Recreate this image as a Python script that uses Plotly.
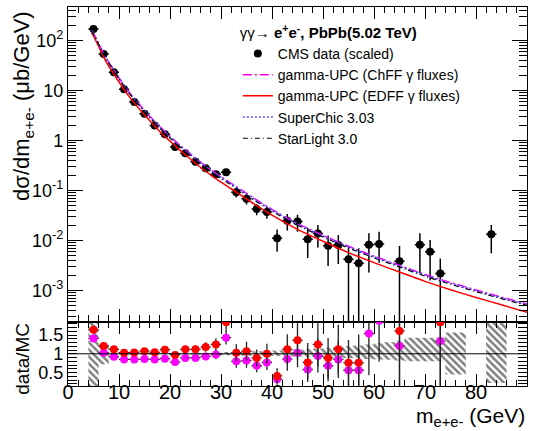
import plotly.graph_objects as go
from plotly.subplots import make_subplots

# ---- measured cross section (points) ----
mass = [5, 7, 9, 11, 13, 15, 17, 19, 21, 23, 25, 27, 29, 31, 33, 35, 37, 39, 41,
        43, 45, 47, 49, 51, 53, 55, 57, 59, 61, 65, 69, 71, 73, 83]
xsec = [171, 54, 23.3, 10.7, 5.9, 3.47, 2.0, 1.34, 0.75, 0.56, 0.38, 0.28, 0.213,
        0.233, 0.093, 0.069, 0.043, 0.0375, 0.0112, 0.025, 0.024, 0.0107, 0.0138,
        0.0079, 0.0082, 0.00425, 0.00353, 0.0083, 0.0086, 0.00387, 0.0083, 0.006,
        0.0022, 0.0134]
err_up = [6, 2.5, 1.1, 0.55, 0.3, 0.2, 0.12, 0.09, 0.055, 0.045, 0.035, 0.03, 0.028,
          0.03, 0.02, 0.016, 0.011, 0.01, 0.0055, 0.009, 0.009, 0.0072, 0.0068,
          0.0047, 0.0048, 0.0034, 0.0035, 0.0058, 0.0065, 0.0039, 0.0058, 0.0043,
          0.0022, 0.0071]
err_dn = [6, 2.5, 1.1, 0.55, 0.3, 0.2, 0.12, 0.09, 0.055, 0.045, 0.035, 0.03, 0.028,
          0.03, 0.02, 0.016, 0.011, 0.01, 0.0052, 0.009, 0.009, 0.0062, 0.0065,
          0.0048, 0.0048, 0.00424, 0.00352, 0.006, 0.005, 0.00386, 0.0061, 0.0044,
          0.00219, 0.0078]
bin_half = [1.0] * len(mass)

# ---- model predictions ----
curve_mass = [4.6, 5, 6, 7, 8, 9, 10, 12, 14, 16, 18, 20, 22, 24, 26, 28, 30, 32, 35,
              40, 45, 50, 55, 60, 65, 70, 75, 80, 85, 90]
chff = [160, 140, 88, 55, 37, 26, 18, 9.3, 5.3, 3.1, 1.9, 1.22, 0.80, 0.54, 0.37,
        0.26, 0.19, 0.14, 0.088, 0.042, 0.022, 0.0128, 0.0077, 0.0049, 0.0032,
        0.0021, 0.00145, 0.00103, 0.00074, 0.00054]
edff = [145, 125, 76.5, 47, 30.8, 21.5, 14.9, 7.6, 4.3, 2.52, 1.53, 0.976, 0.64,
        0.429, 0.294, 0.205, 0.148, 0.109, 0.068, 0.0323, 0.0168, 0.0097, 0.00575,
        0.00363, 0.00235, 0.00153, 0.00104, 0.00073, 0.00052, 0.00037]
superchic = [158, 138, 86, 54, 36.3, 25.5, 17.6, 9.1, 5.2, 3.04, 1.86, 1.19, 0.78,
             0.527, 0.36, 0.253, 0.185, 0.136, 0.0855, 0.0408, 0.0213, 0.0124,
             0.00745, 0.00474, 0.0031, 0.00203, 0.0014, 0.000995, 0.000715, 0.000522]
starlight = [155, 136, 85, 53, 35.5, 24.8, 17.1, 8.8, 5.0, 2.9, 1.77, 1.13, 0.74,
             0.50, 0.342, 0.24, 0.175, 0.129, 0.081, 0.0387, 0.0203, 0.0118, 0.0071,
             0.00452, 0.00296, 0.00194, 0.00134, 0.00095, 0.00069, 0.000505]

# ---- data / MC ratios ----
ratio_mass = [5, 7, 9, 11, 13, 15, 17, 19, 21, 23, 25, 27, 29, 31, 33, 35, 37, 39,
              41, 43, 45, 47, 49, 51, 53, 55, 57, 59, 61, 65, 73]
ratio_edff = [1.64, 1.21, 1.12, 1.03, 1.035, 1.07, 1.04, 1.11, 0.97, 1.12, 1.12, 1.18,
              1.25, 1.84, 1.03, 1.07, 0.89, 1.0, 0.41, 1.12, 1.36, 0.77, 1.25, 0.89,
              1.12, 0.76, 0.76, None, None, 1.61, 1.84]
ratio_chff = [1.41, 1.03, 0.92, 0.85, 0.85, 0.86, 0.85, 0.87, 0.78, 0.89, 0.89, 0.93,
              0.98, 1.43, 0.80, 0.82, 0.68, 0.77, 0.32, 0.86, 1.03, 0.58, 0.94, 0.68,
              0.85, 0.56, 0.56, 1.54, 1.88, 1.21, 1.34]

# ---- model uncertainty band in the ratio panel ----
band_center = [5, 7, 9, 11, 13, 15, 17, 19, 21, 23, 25, 27, 29, 31, 33, 35, 37, 39,
               41, 43, 45, 47, 49, 51, 53, 55, 57, 59, 61, 63, 65, 70, 76, 84]
band_width = [2] * 31 + [8, 4, 4]
band_lo = [0.1, 0.72, 0.96, 0.98, 0.98, 0.98, 0.98, 0.98, 0.98, 0.98, 0.98, 0.98,
           0.98, 0.96, 0.96, 0.95, 0.95, 0.94, 0.94, 0.93, 0.93, 0.92, 0.92, 0.91,
           0.90, 0.89, 0.88, 0.86, 0.85, 0.84, 0.82, 0.80, 0.45, 0.22]
band_hi = [1.9, 1.25, 1.05, 1.02, 1.02, 1.02, 1.02, 1.02, 1.02, 1.02, 1.02, 1.02,
           1.02, 1.05, 1.05, 1.06, 1.07, 1.08, 1.09, 1.10, 1.11, 1.13, 1.14, 1.16,
           1.18, 1.20, 1.22, 1.25, 1.28, 1.31, 1.35, 1.43, 1.57, 1.86]

FONT = "Liberation Sans, Arial, Helvetica, sans-serif"

fig = make_subplots(rows=2, cols=1, shared_xaxes=True, vertical_spacing=0,
                    row_heights=[0.83, 0.17])

# main panel: models
models = [
    ("gamma-UPC (ChFF γ fluxes)", chff, "#ff00ff", "9px,3px,2px,3px", 1.5),
    ("gamma-UPC (EDFF γ fluxes)", edff, "#ff0000", "solid", 1.5),
    ("SuperChic 3.03", superchic, "#5050ff", "2px,2px", 1.6),
    ("StarLight 3.0", starlight, "#000000", "5px,3px,1px,3px", 1.2),
]

fig.add_trace(go.Scatter(
    x=mass, y=xsec, mode="markers", name="CMS data (scaled)",
    marker=dict(color="black", size=8),
    error_y=dict(type="data", symmetric=False, array=err_up, arrayminus=err_dn,
                 color="black", thickness=1.5, width=0),
    error_x=dict(type="data", array=bin_half, color="black", thickness=1.5, width=0),
), row=1, col=1)

for name, vals, color, dash, lw in models:
    fig.add_trace(go.Scatter(
        x=curve_mass, y=vals, mode="lines", name=name,
        line=dict(color=color, dash=dash, width=lw, shape="spline", smoothing=0.6),
    ), row=1, col=1)

# ratio panel: hatched band
fig.add_trace(go.Bar(
    x=band_center, y=[h - l for h, l in zip(band_hi, band_lo)], base=band_lo,
    width=band_width, showlegend=False, hoverinfo="skip",
    marker=dict(color="rgba(0,0,0,0)", line=dict(width=0),
                pattern=dict(shape="\\", fgcolor="#000000", bgcolor="rgba(0,0,0,0)",
                             size=5, solidity=0.5)),
), row=2, col=1)

rel_err = {m: (u / v, d / v) for m, v, u, d in zip(mass, xsec, err_up, err_dn)}


def ratio_errors(vals):
    up, dn = [], []
    for m, r in zip(ratio_mass, vals):
        if r is None:
            up.append(None)
            dn.append(None)
        else:
            up.append(r * rel_err[m][0])
            dn.append(r * rel_err[m][1])
    return up, dn


for vals, color in [(ratio_chff, "#ff00ff"), (ratio_edff, "#ff0000")]:
    up, dn = ratio_errors(vals)
    fig.add_trace(go.Scatter(
        x=ratio_mass, y=vals, mode="markers", showlegend=False,
        marker=dict(color=color, size=8),
        error_y=dict(type="data", symmetric=False, array=up, arrayminus=dn,
                     color="#222222", thickness=1.3, width=0),
        error_x=dict(type="data", array=[1.0] * len(ratio_mass), color="#222222",
                     thickness=1.3, width=0),
    ), row=2, col=1)

# unity line of the ratio panel, on an overlay axis that carries the x tick labels
fig.add_trace(go.Scatter(x=[0, 90], y=[1, 1], mode="lines", showlegend=False,
                         hoverinfo="skip", line=dict(color="black", width=1),
                         xaxis="x3", yaxis="y2"))

# axes
axis_common = dict(showline=True, linecolor="black", linewidth=1.2, mirror="allticks",
                   ticks="inside", tickcolor="black", showgrid=False, zeroline=False)

fig.update_xaxes(range=[0, 90], dtick=10, ticklen=12, tickwidth=1,
                 minor=dict(dtick=2, ticks="inside", ticklen=6, tickcolor="black"),
                 **axis_common)
fig.update_xaxes(showticklabels=False, row=1, col=1)
fig.update_xaxes(showticklabels=False, row=2, col=1)

major_y = [1e-3, 1e-2, 1e-1, 1, 10, 100]
major_txt = ["10<sup>-3</sup>", "10<sup>-2</sup>", "10<sup>-1</sup>", "1", "10",
             "10<sup>2</sup>"]
minor_y = [k * 10.0 ** e for e in range(-4, 3) for k in range(2, 10)]
fig.update_yaxes(type="log", range=[-3.62, 2.674], tickmode="array",
                 tickvals=major_y, ticktext=major_txt, ticklen=15,
                 tickfont=dict(size=18, family=FONT, color="black"),
                 minor=dict(tickmode="array", tickvals=minor_y, ticks="inside",
                            ticklen=8, tickcolor="black"),
                 row=1, col=1, **axis_common)
fig.update_yaxes(range=[0.14, 1.86], tickmode="array", tickvals=[0.5, 1, 1.5],
                 ticktext=["0.5", "1", "1.5"], ticklen=9,
                 tickfont=dict(size=18, family=FONT, color="black"),
                 minor=dict(dtick=0.1, ticks="inside", ticklen=5, tickcolor="black"),
                 row=2, col=1, **axis_common)

fig.update_layout(
    width=535, height=431, margin=dict(l=68, r=8, t=7, b=45),
    paper_bgcolor="white", plot_bgcolor="white", barmode="overlay",
    font=dict(family=FONT, color="black"),
    xaxis3=dict(overlaying="x2", anchor="free", position=0.022, range=[0, 90],
                dtick=10, showline=False, ticks="", showgrid=False, zeroline=False,
                tickfont=dict(size=20, family=FONT, color="black")),
    legend=dict(x=0.37, y=0.97, xanchor="left", yanchor="top",
                bgcolor="rgba(0,0,0,0)", borderwidth=0, tracegroupgap=0,
                font=dict(size=14, family=FONT, color="black"),
                title=dict(text="γγ→ <b>e<sup>+</sup>e<sup>-</sup>, PbPb(5.02 TeV)</b>",
                           font=dict(size=15, family=FONT, color="black"))),
    annotations=[
        dict(text="dσ/dm<sub>e+e-</sub> (μb/GeV)", textangle=-90, xref="paper",
             yref="paper", x=-0.098, y=0.995, xanchor="center", yanchor="top",
             showarrow=False, font=dict(size=22, family=FONT, color="black")),
        dict(text="data/MC", textangle=-90, xref="paper", yref="paper",
             x=-0.098, y=0.072, xanchor="center", yanchor="middle",
             showarrow=False, font=dict(size=19, family=FONT, color="black")),
        dict(text="m<sub>e+e-</sub> (GeV)", xref="paper", yref="paper",
             x=1.0, y=-0.083, xanchor="right", yanchor="middle",
             showarrow=False, font=dict(size=21, family=FONT, color="black")),
    ],
)

fig.write_html("out.html")
